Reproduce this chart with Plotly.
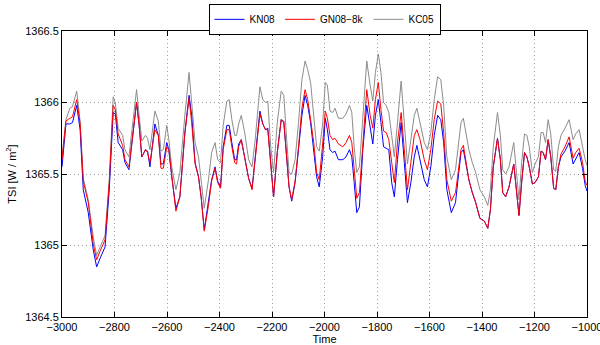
import plotly.graph_objects as go

years = [-3000, -2985, -2970, -2960, -2944, -2931, -2919, -2900, -2881, -2868, -2855, -2836, -2820, -2805,
         -2797, -2786, -2769, -2760, -2745, -2729, -2716, -2706, -2696, -2682, -2674, -2665, -2646, -2633,
         -2623, -2614, -2601, -2593, -2582, -2566, -2551, -2532, -2516, -2506, -2493, -2480, -2470, -2458,
         -2442, -2430, -2417, -2407, -2396, -2386, -2372, -2363, -2353, -2342, -2335, -2327, -2317, -2304,
         -2289, -2276, -2264, -2255, -2246, -2235, -2225, -2216, -2205, -2194, -2180, -2165, -2155, -2144,
         -2135, -2125, -2112, -2099, -2086, -2074, -2064, -2053, -2041, -2030, -2020, -2007, -1997, -1989,
         -1979, -1969, -1960, -1947, -1930, -1918, -1905, -1896, -1887, -1877, -1867, -1854, -1839, -1826,
         -1816, -1806, -1795, -1785, -1775, -1765, -1755, -1744, -1734, -1722, -1708, -1696, -1684, -1671,
         -1658, -1648, -1636, -1620, -1608, -1595, -1582, -1569, -1557, -1546, -1534, -1517, -1501, -1493,
         -1480, -1471, -1462, -1450, -1437, -1424, -1408, -1391, -1378, -1368, -1357, -1341, -1330, -1321,
         -1310, -1297, -1279, -1268, -1259, -1249, -1238, -1229, -1220, -1208, -1198, -1185, -1175, -1167,
         -1158, -1148, -1138, -1127, -1119, -1109, -1099, -1084, -1068, -1053, -1043, -1030, -1017, -1007,
         -1000]

kn08 = [1365.55, 1365.85, 1365.85, 1365.86, 1365.98, 1365.81, 1365.39, 1365.23, 1364.97, 1364.85, 1364.91, 1364.99, 1365.39, 1365.93,
        1365.92, 1365.72, 1365.67, 1365.58, 1365.53, 1365.81, 1366.00, 1365.84, 1365.62, 1365.67, 1365.66, 1365.55, 1365.85, 1365.77,
        1365.57, 1365.57, 1365.72, 1365.67, 1365.48, 1365.26, 1365.34, 1365.79, 1366.05, 1365.91, 1365.58, 1365.48, 1365.34, 1365.11,
        1365.30, 1365.46, 1365.55, 1365.45, 1365.41, 1365.69, 1365.84, 1365.84, 1365.72, 1365.60, 1365.60, 1365.71, 1365.74, 1365.62,
        1365.47, 1365.40, 1365.60, 1365.79, 1365.94, 1365.85, 1365.81, 1365.82, 1365.58, 1365.34, 1365.65, 1365.88, 1365.86, 1365.62,
        1365.41, 1365.31, 1365.44, 1365.67, 1365.91, 1366.05, 1365.98, 1365.86, 1365.67, 1365.48, 1365.41, 1365.62, 1365.89, 1365.81,
        1365.67, 1365.65, 1365.66, 1365.60, 1365.60, 1365.62, 1365.67, 1365.62, 1365.44, 1365.23, 1365.27, 1365.67, 1365.98, 1365.81,
        1365.71, 1365.91, 1366.02, 1365.86, 1365.69, 1365.68, 1365.67, 1365.44, 1365.34, 1365.60, 1365.86, 1365.58, 1365.30, 1365.44,
        1365.62, 1365.70, 1365.60, 1365.46, 1365.41, 1365.55, 1365.77, 1365.91, 1365.88, 1365.72, 1365.39, 1365.23, 1365.30, 1365.44,
        1365.65, 1365.67, 1365.58, 1365.46, 1365.37, 1365.30, 1365.19, 1365.17, 1365.12, 1365.25, 1365.55, 1365.75, 1365.60, 1365.37,
        1365.34, 1365.41, 1365.57, 1365.39, 1365.21, 1365.44, 1365.65, 1365.62, 1365.55, 1365.43, 1365.44, 1365.48, 1365.66, 1365.65,
        1365.60, 1365.74, 1365.62, 1365.40, 1365.39, 1365.55, 1365.62, 1365.66, 1365.72, 1365.57, 1365.61, 1365.65, 1365.54, 1365.42,
        1365.38]

gn08 = [1365.60, 1365.87, 1365.89, 1365.90, 1366.02, 1365.85, 1365.45, 1365.30, 1365.01, 1364.90, 1364.96, 1365.04, 1365.44, 1365.98,
        1365.95, 1365.78, 1365.70, 1365.60, 1365.55, 1365.81, 1366.00, 1365.84, 1365.62, 1365.67, 1365.65, 1365.58, 1365.81, 1365.77,
        1365.54, 1365.54, 1365.69, 1365.67, 1365.48, 1365.24, 1365.34, 1365.78, 1366.03, 1365.86, 1365.57, 1365.48, 1365.34, 1365.10,
        1365.28, 1365.45, 1365.54, 1365.44, 1365.40, 1365.67, 1365.81, 1365.81, 1365.69, 1365.58, 1365.57, 1365.69, 1365.74, 1365.62,
        1365.47, 1365.39, 1365.60, 1365.79, 1365.92, 1365.85, 1365.81, 1365.81, 1365.60, 1365.34, 1365.65, 1365.88, 1365.87, 1365.62,
        1365.41, 1365.32, 1365.45, 1365.69, 1365.96, 1366.09, 1366.02, 1365.88, 1365.72, 1365.51, 1365.46, 1365.71, 1365.94, 1365.89,
        1365.77, 1365.74, 1365.75, 1365.71, 1365.69, 1365.72, 1365.77, 1365.72, 1365.51, 1365.33, 1365.37, 1365.74, 1366.09, 1365.91,
        1365.82, 1366.02, 1366.14, 1365.95, 1365.80, 1365.79, 1365.74, 1365.58, 1365.44, 1365.72, 1365.93, 1365.67, 1365.39, 1365.58,
        1365.77, 1365.81, 1365.74, 1365.60, 1365.53, 1365.67, 1365.88, 1366.01, 1365.99, 1365.79, 1365.46, 1365.31, 1365.37, 1365.48,
        1365.67, 1365.70, 1365.59, 1365.46, 1365.37, 1365.30, 1365.19, 1365.17, 1365.12, 1365.25, 1365.55, 1365.75, 1365.60, 1365.37,
        1365.34, 1365.41, 1365.57, 1365.39, 1365.21, 1365.44, 1365.65, 1365.62, 1365.55, 1365.43, 1365.44, 1365.48, 1365.66, 1365.65,
        1365.60, 1365.74, 1365.62, 1365.40, 1365.39, 1365.55, 1365.64, 1365.69, 1365.76, 1365.61, 1365.65, 1365.68, 1365.58, 1365.45,
        1365.42]

kc05 = [1365.62, 1365.88, 1365.96, 1365.97, 1366.08, 1365.87, 1365.47, 1365.32, 1365.06, 1364.93, 1364.99, 1365.07, 1365.46, 1366.04,
        1366.00, 1365.82, 1365.77, 1365.67, 1365.62, 1365.87, 1366.09, 1365.91, 1365.73, 1365.77, 1365.75, 1365.67, 1365.94, 1365.87,
        1365.66, 1365.67, 1365.84, 1365.74, 1365.55, 1365.39, 1365.51, 1365.91, 1366.21, 1366.00, 1365.72, 1365.62, 1365.46, 1365.26,
        1365.46, 1365.65, 1365.72, 1365.60, 1365.58, 1365.84, 1366.01, 1366.02, 1365.88, 1365.77, 1365.77, 1365.85, 1365.91, 1365.79,
        1365.60, 1365.55, 1365.74, 1365.95, 1366.11, 1366.02, 1366.00, 1366.01, 1365.69, 1365.51, 1365.86, 1366.08, 1366.05, 1365.74,
        1365.51, 1365.50, 1365.60, 1365.86, 1366.16, 1366.29, 1366.23, 1366.14, 1365.91, 1365.69, 1365.66, 1365.85, 1366.14, 1366.12,
        1365.94, 1365.93, 1365.96, 1365.89, 1365.89, 1365.92, 1365.98, 1365.93, 1365.69, 1365.51, 1365.55, 1365.93, 1366.29, 1366.12,
        1366.01, 1366.21, 1366.34, 1366.21, 1366.00, 1365.98, 1365.93, 1365.77, 1365.62, 1365.86, 1366.15, 1365.86, 1365.57, 1365.74,
        1365.91, 1365.96, 1365.86, 1365.72, 1365.67, 1365.79, 1366.02, 1366.18, 1366.16, 1365.98, 1365.62, 1365.46, 1365.53, 1365.67,
        1365.86, 1365.89, 1365.79, 1365.67, 1365.58, 1365.51, 1365.39, 1365.34, 1365.28, 1365.39, 1365.69, 1365.93, 1365.77, 1365.53,
        1365.50, 1365.55, 1365.72, 1365.51, 1365.32, 1365.58, 1365.78, 1365.77, 1365.69, 1365.51, 1365.57, 1365.62, 1365.79, 1365.79,
        1365.72, 1365.88, 1365.78, 1365.53, 1365.52, 1365.69, 1365.77, 1365.82, 1365.88, 1365.74, 1365.78, 1365.81, 1365.69, 1365.60,
        1365.56]

series_names = ["KN08", "GN08\u22128k", "KC05"]
series_colors = ["#0000ff", "#ff0000", "#8c8c8c"]
x_ticks = list(range(-3000, -999, 200))
x_tick_labels = [str(v).replace("-", "\u2212") for v in x_ticks]
y_ticks = [1364.5, 1365, 1365.5, 1366, 1366.5]
y_tick_labels = ["1364.5", "1365", "1365.5", "1366", "1366.5"]

fig = go.Figure()
series = list(zip(series_names, [kn08, gn08, kc05], series_colors, [1, 2, 3]))
# draw gray first (underneath), keep legend order via legendrank
for name, vals, col, rank in [series[2], series[0], series[1]]:
    fig.add_trace(go.Scatter(x=years, y=vals, mode="lines", name=name, legendrank=rank,
                             line=dict(color=col, width=1)))

axis_common = dict(showline=True, linecolor="black", linewidth=1, mirror="ticks",
                   ticks="inside", ticklen=5, tickcolor="black",
                   showgrid=True, gridcolor="#a0a0a0", griddash="1px,3px", gridwidth=1,
                   zeroline=False, tickfont=dict(size=11, color="black"),
                   ticklabeloverflow="allow", automargin=False)

fig.update_xaxes(range=[-3000, -1000], tickvals=x_ticks, ticktext=x_tick_labels,
                 title=dict(text="Time", font=dict(size=11, color="black"), standoff=2),
                 **axis_common)
fig.update_yaxes(range=[1364.5, 1366.5], tickvals=y_ticks, ticktext=y_tick_labels,
                 title=dict(text="TSI [W / m<sup>2</sup>]", font=dict(size=11, color="black"), standoff=6),
                 **axis_common)

fig.update_layout(
    width=600, height=345,
    margin=dict(l=62, r=13, t=31, b=28, autoexpand=False),
    paper_bgcolor="white", plot_bgcolor="white",
    font=dict(family="Liberation Sans, Arial, sans-serif", size=11, color="black"),
    legend=dict(orientation="h", x=0.5, xanchor="center", y=1.095, yanchor="top",
                bordercolor="black", borderwidth=1, bgcolor="white",
                font=dict(size=10), itemwidth=30, tracegroupgap=0,
                traceorder="normal"),
    showlegend=True,
)

fig.write_html("out.html", config={"displayModeBar": False},
               post_script="document.body.style.margin='0';document.body.style.overflow='hidden';")
